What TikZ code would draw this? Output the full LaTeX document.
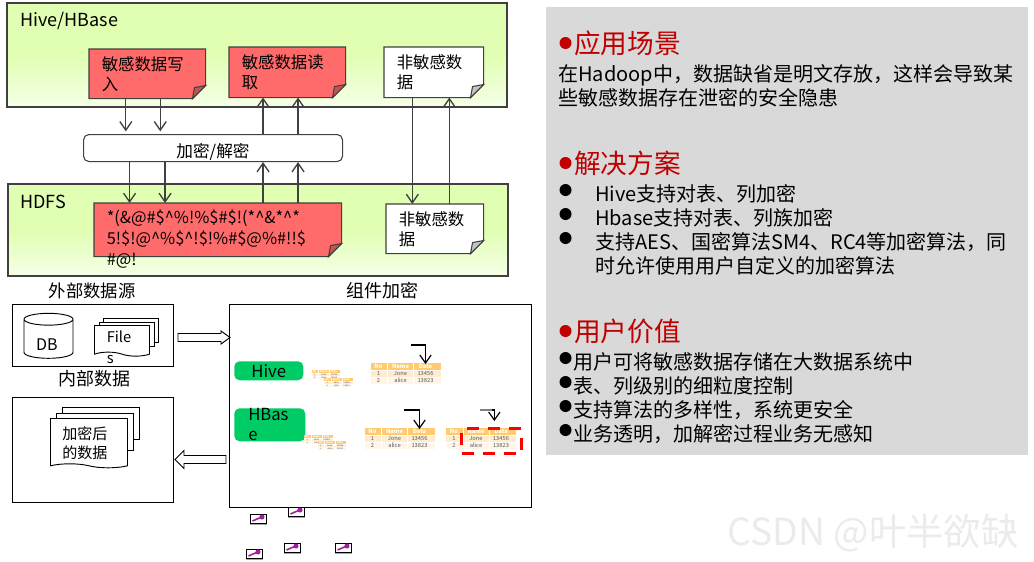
\documentclass[tikz,border=0pt]{standalone}
\usepackage{fontspec}
\setmainfont{Noto Sans CJK SC}
\usepackage{tikz}
\usetikzlibrary{arrows.meta, shapes.geometric, shapes.symbols}
\pgfdeclarelayer{back}
\pgfdeclarelayer{mid}
\pgfsetlayers{back,mid,main}
\definecolor{panelGreen}{RGB}{224,255,178}
\definecolor{panelPale}{RGB}{246,255,232}
\definecolor{noteRed}{RGB}{255,107,107}
\definecolor{foldRed}{RGB}{196,84,84}
\definecolor{foldGray}{RGB}{196,196,196}
\definecolor{lineGray}{RGB}{64,64,64}
\definecolor{pillGreen}{RGB}{0,204,102}
\definecolor{sideGray}{RGB}{217,217,217}
\definecolor{headRed}{RGB}{192,0,0}
\definecolor{headOrange}{RGB}{255,203,110}
\definecolor{rowOrange}{RGB}{255,236,208}
\definecolor{rowPale}{RGB}{255,245,232}
\definecolor{keyPurple}{RGB}{160,30,160}
\tikzset{
    >={Straight Barb[length=6.5pt,width=9pt]}, % open arrow heads
    panel/.style={draw=lineGray, line width=0.8pt, top color=panelGreen, bottom color=panelPale, middle color=panelGreen},
    notetext/.style={anchor=north west, inner sep=0pt, align=left, font=\fontsize{12.3}{15.5}\selectfont},
    plainbox/.style={draw=black, line width=0.7pt, fill=white, anchor=north west, inner sep=0pt},
    bigtext/.style={inner sep=0pt, font=\fontsize{13.5}{18}\selectfont},
    flow/.style={->, draw=lineGray, line width=1pt},
    elbow/.style={->, draw=black, line width=0.9pt, >={Straight Barb[length=6pt,width=8.5pt]}},
    sheet/.style={draw=black, line width=0.7pt, fill=white, anchor=north west, inner sep=0pt},
    wavesheet/.style={tape, draw=black, line width=0.7pt, fill=white, anchor=north west, inner sep=0pt,
        tape bend top=none, tape bend bottom=out and in, tape bend height=3pt},
    blockarrow/.style={draw=black, line width=0.7pt, fill=white},
    pill/.style={fill=pillGreen, rounded corners=4pt, anchor=north west, inner sep=0pt},
    sidetext/.style={anchor=north west, inner sep=0pt, align=left, font=\fontsize{15}{18}\selectfont},
    headtext/.style={anchor=west, inner sep=0pt, text=headRed, font=\fontsize{20}{24}\selectfont},
    bluedot/.style={circle, fill=black, inner sep=0pt, minimum size=9pt},
    reddot/.style={circle, fill=headRed, inner sep=0pt, minimum size=9pt},
    tablerow/.style={anchor=north west, inner sep=0pt, minimum width=52.5pt, minimum height=5.25pt},
    cellhead/.style={inner sep=0pt, text=white, font=\fontsize{4.3}{5}\selectfont\bfseries},
    celltext/.style={inner sep=0pt, text=black!65, font=\fontsize{4.3}{5}\selectfont},
    keybox/.style={draw=black, line width=0.7pt, fill=white, anchor=north west, inner sep=0pt, minimum width=12.5pt, minimum height=6.5pt},
}
% sticky note: name, x, y, w, h, fill, fold colour, text
\newcommand{\notebox}[8]{
    \node[anchor=north west, inner sep=0pt, minimum width=#4*0.75pt, minimum height=#5*0.75pt] (#1) at (#2,#3) {};
    \begin{pgfonlayer}{mid}
        \draw[draw=lineGray, line width=0.8pt, fill=#6] (#1.north west) -- (#1.north east)
            -- ([shift={(0,-13)}]#1.south east) -- ([shift={(-13,0)}]#1.south east) -- (#1.south west) -- cycle;
        \draw[draw=lineGray, line width=0.8pt, fill=#7] ([shift={(0,-13)}]#1.south east)
            -- ([shift={(-11,-11)}]#1.south east) -- ([shift={(-13,0)}]#1.south east) -- cycle;
    \end{pgfonlayer}
    \node[notetext] (#1-text) at ([shift={(12.5,7)}]#1.north west) {#8};
}
% small table: name, x, y, scale
\newcommand{\datatable}[4]{
    \begin{scope}[shift={(#2,#3)}, scale=#4, transform shape]
        \node[tablerow, fill=headOrange] (#1-head) at (0,0) {};
        \node[tablerow, fill=rowOrange] (#1-rowa) at (0,7) {};
        \node[tablerow, fill=rowPale] (#1-rowb) at (0,14) {};
        \draw[white, line width=#4*0.3pt] (17,0) -- (17,21) (43,0) -- (43,21) (0,7) -- (70,7) (0,14) -- (70,14);
        \foreach \cx/\ca/\cb/\cc [count=\ci] in {8/No/1/2, 30/Name/Jone/alice, 55/Data/13456/13823} {
            \node[cellhead] (#1-h\ci) at (\cx,3.5) {\ca};
            \node[celltext] (#1-a\ci) at (\cx,10.5) {\cb};
            \node[celltext] (#1-b\ci) at (\cx,17.5) {\cc};
        }
    \end{scope}
}
% key icon: name, x, y
\newcommand{\keyicon}[3]{
    \draw[gray!70, line width=1pt] (#2,#3+10) -- (#2+17,#3+10);
    \node[keybox] (#1) at (#2,#3) {};
    \draw[keyPurple, line width=1.2pt] (#2+3,#3+7) -- (#2+11,#3+3.5);
    \fill[keyPurple] (#2+12.5,#3+3) circle (1.9pt);
}

\begin{document}
\begin{tikzpicture}[x=0.75pt, y=-0.75pt]
    \useasboundingbox (0,0) rectangle (1034,561);

    % top left: storage flow
    \begin{pgfonlayer}{back}
        \draw[panel] (7,3) rectangle (507,107);
        \draw[panel] (8,184) rectangle (508,276);
    \end{pgfonlayer}
    \node[bigtext, anchor=west] (hiveLabel) at (20,21) {Hive/HBase};
    \node[bigtext, anchor=west] (hdfsLabel) at (20,202) {HDFS};

    \notebox{writeNote}{89}{49}{116}{49}{noteRed}{foldRed}{敏感数据写\\入}
    \notebox{readNote}{229}{47}{116}{50}{noteRed}{foldRed}{敏感数据读\\取}
    \notebox{plainTop}{384}{47}{99}{50}{white}{foldGray}{非敏感数\\据}
    \notebox{cipherNote}{94}{203}{247}{53}{noteRed}{foldRed}{*(\&@\#\$\textasciicircum\%!\%\$\#\$!(*\textasciicircum\&*\textasciicircum*\\5!\$!@\textasciicircum\%\$\textasciicircum!\$!\%\#\$@\%\#!!\$\\\#@!}
    \notebox{plainLow}{386}{204}{97}{49}{white}{foldGray}{非敏感数\\据}

    \node[draw=lineGray, line width=0.8pt, fill=white, rounded corners=4pt, anchor=north west, inner sep=0pt,
        minimum width=194.25pt, minimum height=20.25pt] (cryptBar) at (83,134) {};
    \node[inner sep=0pt, font=\fontsize{12.5}{15}\selectfont] (cryptText) at (213,152) {加密/解密};

    \draw[flow, shorten >=2pt] ([xshift=-16.1pt]writeNote.south) -- ([xshift=-16.1pt]writeNote.south |- cryptBar.north);
    \draw[flow, shorten >=2pt] ([xshift=9.75pt]writeNote.south) -- ([xshift=9.75pt]writeNote.south |- cryptBar.north);
    \draw[flow] ([xshift=-62.6pt]cryptBar.south) -- ([xshift=-62.6pt]cryptBar.south |- cipherNote.north);
    \draw[flow] ([xshift=-36pt]cryptBar.south) -- ([xshift=-36pt]cryptBar.south |- cipherNote.north);
    \draw[flow] ([xshift=37.5pt]cryptBar.north) -- ([xshift=37.5pt]cryptBar.north |- readNote.south);
    \draw[flow] ([xshift=63.75pt]cryptBar.north) -- ([xshift=63.75pt]cryptBar.north |- readNote.south);
    \draw[flow] ([xshift=37.5pt]cryptBar.south |- cipherNote.north) -- ([xshift=37.5pt]cryptBar.south);
    \draw[flow] ([xshift=63.75pt]cryptBar.south |- cipherNote.north) -- ([xshift=63.75pt]cryptBar.south);
    \draw[flow] ([xshift=-16.1pt]plainTop.south) -- ([xshift=-16.1pt]plainTop.south |- plainLow.north);
    \draw[flow] ([xshift=10.9pt]plainLow.north) -- ([xshift=10.9pt]plainLow.north |- plainTop.south);

    % bottom left: sources and component box
    \node[bigtext, font=\fontsize{13}{18}\selectfont] (sourceLabel) at (92,291) {外部数据源};
    \node[bigtext] (innerLabel) at (94,379) {内部数据};
    \node[bigtext] (compLabel) at (382,291) {组件加密};
    \node[plainbox, minimum width=120.75pt, minimum height=46.5pt] (sourceBox) at (12,304) {};
    \node[plainbox, minimum width=120.75pt, minimum height=78.75pt] (innerBox) at (12,397) {};
    \node[plainbox, minimum width=226.5pt, minimum height=152.25pt] (compBox) at (229,304) {};

    \node[cylinder, shape border rotate=90, draw=black, line width=0.7pt, fill=white, aspect=0.55, inner sep=0pt,
        minimum height=33.75pt, minimum width=36.75pt, font=\fontsize{12}{14}\selectfont] (dbNode) at (48.5,339) {\phantom{DB}};
    \node[inner sep=0pt, font=\fontsize{12}{14}\selectfont] (dbText) at (47,345) {DB};

    \node[sheet, minimum width=41.25pt, minimum height=18pt] (fileBack) at (103,318) {};
    \node[sheet, minimum width=41.25pt, minimum height=18pt] (fileMid) at (98.5,322) {};
    \node[wavesheet, minimum width=41.25pt, minimum height=23pt] (fileFront) at (94,325) {};
    \node[notetext, font=\fontsize{11}{15.5}\selectfont] (fileText) at (106.5,331) {File\\s};

    \node[sheet, minimum width=57.75pt, minimum height=24pt] (cipherBack) at (62,407) {};
    \node[sheet, minimum width=57.75pt, minimum height=28pt] (cipherMid) at (56,412.5) {};
    \node[wavesheet, minimum width=57.75pt, minimum height=37pt] (cipherFront) at (50,418) {};
    \node[notetext, font=\fontsize{11.3}{14.5}\selectfont] (cipherText) at (62,426) {加密后\\的数据};

    \coordinate (inStart) at (178,337.5);
    \coordinate (outStart) at (226,459.5);
    \draw[blockarrow] (inStart) ++(0,-4) -- ++(43,0) -- ++(0,-2.5) -- ++(9,6.5) -- ++(-9,6.5) -- ++(0,-2.5) -- ++(-43,0) -- cycle;
    \draw[blockarrow] (outStart) ++(0,-4) -- ++(-42,0) -- ++(0,-5) -- ++(-9,9) -- ++(9,9) -- ++(0,-5) -- ++(42,0) -- cycle;

    \node[pill, minimum width=51.75pt, minimum height=14.25pt, font=\fontsize{12.5}{15}\selectfont] (hivePill) at (234,361) {Hive};
    \node[pill, minimum width=53.25pt, minimum height=24.75pt] (hbasePill) at (234,408) {};
    \node[notetext, font=\fontsize{12.5}{15}\selectfont] (hbaseText) at (248,408) {HBas\\e};

    \datatable{hiveMiniA}{311.5}{370}{0.41}
    \datatable{hiveMiniB}{324}{378}{0.41}
    \datatable{hbaseMiniA}{304}{435}{0.41}
    \datatable{hbaseMiniB}{317.5}{441}{0.41}
    \datatable{hiveTable}{370.5}{363}{1}
    \datatable{hbaseTable}{364.5}{428}{1}
    \datatable{maskTable}{446}{428}{1}

    \coordinate (hiveFrom) at (411,345);
    \coordinate (hbaseFrom) at (404,410);
    \coordinate (maskFrom) at (480,410);
    \draw[elbow] (hiveFrom) -| (hiveTable-h3.north);
    \draw[elbow] (hbaseFrom) -| (hbaseTable-h3.north);
    \draw[elbow] (maskFrom) -| ([shift={(-5pt,6pt)}]maskTable-h3.north);
    \draw[gray, line width=1.2pt] (maskFrom) -- ++(12,0);
    \node[draw=red, line width=2.25pt, dash pattern=on 9pt off 7pt, anchor=north west, inner sep=0pt,
        minimum width=45pt, minimum height=18.75pt] (maskBox) at (460,427) {};

    \keyicon{keyA}{249.5}{514}
    \keyicon{keyB}{287.5}{507}
    \keyicon{keyC}{245.5}{549}
    \keyicon{keyD}{283.5}{543}
    \keyicon{keyE}{334.5}{543}

    % right side: text panel
    \node[fill=sideGray, anchor=north west, inner sep=0pt, minimum width=361.5pt, minimum height=336pt] (sidePanel) at (546,7) {};

    \node[reddot] (dotScene) at (565.5,43) {};
    \node[headtext] (sceneHead) at (574,43) {应用场景};
    \node[sidetext] (sceneText) at (558,64) {在Hadoop中，数据缺省是明文存放，这样会导致某\\些敏感数据存在泄密的安全隐患};

    \node[reddot] (dotPlan) at (565.5,163) {};
    \node[headtext] (planHead) at (574,163) {解决方案};
    \node[bluedot] (dotPlanA) at (565.5,190) {};
    \node[bluedot] (dotPlanB) at (565.5,214) {};
    \node[bluedot] (dotPlanC) at (565.5,238) {};
    \node[sidetext] (planText) at (595,184) {Hive支持对表、列加密\\Hbase支持对表、列族加密\\支持AES、国密算法SM4、RC4等加密算法，同\\时允许使用用户自定义的加密算法};

    \node[reddot] (dotValue) at (565.5,331) {};
    \node[headtext] (valueHead) at (574,331) {用户价值};
    \node[bluedot] (dotValueA) at (565.5,358) {};
    \node[bluedot] (dotValueB) at (565.5,382) {};
    \node[bluedot] (dotValueC) at (565.5,406) {};
    \node[bluedot] (dotValueD) at (565.5,430) {};
    \node[sidetext] (valueText) at (573,352) {用户可将敏感数据存储在大数据系统中\\表、列级别的细粒度控制\\支持算法的多样性，系统更安全\\业务透明，加解密过程业务无感知};

    \node[anchor=center, inner sep=0pt, text=black!8, font=\fontsize{28}{30}\selectfont] (markText) at (873,533) {CSDN @叶半欲缺};
\end{tikzpicture}
\end{document}
